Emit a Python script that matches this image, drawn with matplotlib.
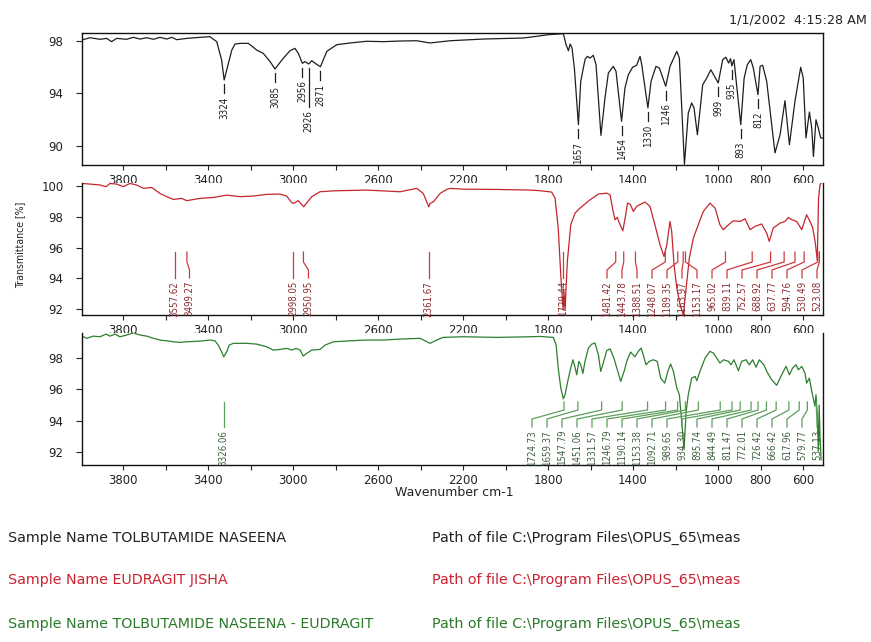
import numpy as np
import matplotlib
matplotlib.use("Agg")
import matplotlib.pyplot as plt
from matplotlib import font_manager

# TOLBUTAMIDE NASEENA
tol_wn = [3993, 3955, 3908, 3877, 3854, 3830, 3783, 3751, 3720, 3688, 3657, 3626,
          3594, 3571, 3547, 3500, 3438, 3391, 3359, 3336, 3324, 3304, 3288, 3273,
          3249, 3210, 3171, 3140, 3108, 3085, 3046, 3014, 2991, 2975, 2956, 2944,
          2926, 2912, 2896, 2871, 2841, 2794, 2732, 2653, 2575, 2496, 2418, 2355,
          2261, 2104, 1916, 1853, 1798, 1728, 1715, 1704, 1696, 1687, 1676, 1657,
          1646, 1626, 1615, 1602, 1587, 1574, 1551, 1532, 1516, 1493, 1480, 1454,
          1438, 1422, 1402, 1383, 1367, 1359, 1330, 1315, 1292, 1276, 1246, 1226,
          1194, 1182, 1158, 1140, 1124, 1113, 1097, 1072, 1053, 1034, 999, 978,
          963, 950, 941, 935, 925, 893, 877, 862, 846, 834, 812, 802, 790, 771,
          732, 708, 685, 664, 638, 611, 599, 586, 570, 559, 551, 539, 528, 517, 507]
tol_tr = [98.08, 98.25, 98.13, 98.20, 97.95, 98.20, 98.13, 98.28, 98.15, 98.25, 98.13, 98.28,
          98.15, 98.28, 98.10, 98.20, 98.28, 98.33, 97.95, 96.55, 95.03, 96.30, 97.31, 97.77,
          97.82, 97.82, 97.31, 97.06, 96.43, 95.87, 96.68, 97.26, 97.44, 97.06, 96.30, 96.43,
          96.25, 96.50, 96.30, 96.04, 97.21, 97.72, 97.85, 97.98, 97.95, 98.00, 98.02, 97.85,
          98.02, 98.15, 98.23, 98.36, 98.48, 98.56, 97.72, 97.26, 97.77, 97.47, 95.94, 91.62,
          94.93, 96.58, 96.83, 96.70, 96.91, 96.20, 90.81, 93.66, 95.56, 96.07, 95.69, 91.88,
          94.42, 95.43, 96.00, 96.15, 96.83, 96.20, 92.90, 94.93, 96.07, 95.94, 94.55, 96.07,
          97.21, 96.70, 88.60, 92.51, 93.28, 92.90, 90.86, 94.67, 95.18, 95.81, 94.80, 96.58,
          96.76, 96.32, 96.65, 96.10, 96.58, 91.62, 95.18, 96.20, 96.58, 95.94, 93.91, 96.07, 96.15, 94.93,
          89.47, 90.86, 93.45, 90.10, 93.40, 96.00, 95.18, 90.61, 92.59, 91.37, 89.20, 92.00, 91.37, 90.61, 90.61]
tol_peaks = [3324, 3085, 2956, 2926, 2871, 1657, 1454, 1330, 1246, 999, 935, 893, 812]

# EUDRAGIT JISHA
eud_wn = [3993, 3955, 3908, 3880, 3861, 3830, 3799, 3767, 3736, 3704, 3665, 3626,
          3594, 3563, 3524, 3500, 3438, 3375, 3312, 3249, 3187, 3124, 3061, 3030,
          3006, 2998, 2975, 2950, 2944, 2912, 2873, 2810, 2653, 2496, 2418, 2387,
          2361, 2355, 2339, 2308, 2277, 2261, 2199, 2041, 1885, 1838, 1783, 1767,
          1752, 1740, 1729, 1725, 1720, 1709, 1693, 1673, 1649, 1602, 1563, 1524,
          1508, 1495, 1485, 1474, 1461, 1448, 1437, 1426, 1414, 1398, 1383, 1344,
          1320, 1297, 1273, 1254, 1241, 1226, 1218, 1207, 1194, 1179, 1163, 1150,
          1135, 1116, 1093, 1069, 1038, 1014, 991, 975, 951, 928, 896, 873, 849,
          826, 795, 771, 759, 740, 708, 685, 669, 653, 630, 606, 583, 567, 554,
          542, 533, 527, 520, 514]
eud_tr = [100.17, 100.13, 100.07, 99.96, 100.17, 100.13, 99.96, 100.17, 100.07, 99.85, 99.91, 99.52,
          99.31, 99.13, 99.20, 99.05, 99.20, 99.26, 99.41, 99.31, 99.35, 99.46, 99.48, 99.35,
          98.92, 98.87, 99.05, 98.65, 98.76, 99.31, 99.63, 99.69, 99.74, 99.63, 99.85, 99.52,
          98.65, 98.87, 98.98, 99.52, 99.78, 99.85, 99.80, 99.78, 99.74, 99.70, 99.61, 99.22,
          97.27, 94.23, 91.95, 93.15, 91.95, 95.10, 97.48, 98.24, 98.57, 99.11, 99.48, 99.54,
          99.43, 98.46, 97.81, 97.96, 97.48, 97.09, 97.92, 98.89, 98.83, 98.35, 98.68, 98.96,
          98.68, 97.48, 96.18, 95.42, 96.18, 97.70, 97.05, 94.88, 93.37, 92.28, 91.63, 93.37,
          95.32, 96.62, 97.48, 98.35, 98.89, 98.57, 97.48, 97.16, 97.48, 97.74, 97.70, 97.87, 97.16,
          97.38, 97.53, 96.94, 96.40, 97.27, 97.59, 97.70, 97.96, 97.81, 97.70, 97.16, 98.13, 97.70, 97.27,
          96.29, 95.14, 99.22, 100.08, 100.20]
eud_peaks = [3557.62, 3499.27, 2998.05, 2950.95, 2361.67, 1729.44, 1481.42, 1443.78,
             1388.51, 1248.07, 1189.35, 1163.97, 1153.17, 965.02, 839.11, 752.57,
             688.92, 637.77, 594.76, 530.49, 523.08]

# TOLBUTAMIDE NASEENA - EUDRAGIT
mix_wn = [3993, 3971, 3940, 3908, 3880, 3861, 3838, 3814, 3783, 3751, 3720, 3688,
          3657, 3626, 3594, 3563, 3532, 3500, 3438, 3391, 3367, 3352, 3336, 3326,
          3312, 3300, 3281, 3218, 3171, 3124, 3093, 3061, 3030, 3006, 2986, 2967,
          2952, 2935, 2912, 2873, 2849, 2810, 2732, 2653, 2575, 2496, 2402, 2379,
          2355, 2324, 2293, 2199, 2041, 1885, 1838, 1775, 1762, 1752, 1740, 1728,
          1720, 1704, 1693, 1683, 1674, 1665, 1655, 1646, 1636, 1626, 1610, 1594,
          1579, 1563, 1552, 1540, 1524, 1508, 1490, 1474, 1458, 1442, 1427, 1411,
          1391, 1375, 1362, 1352, 1339, 1323, 1305, 1286, 1270, 1251, 1236, 1223,
          1210, 1194, 1182, 1171, 1160, 1150, 1140, 1124, 1108, 1100, 1085, 1061,
          1038, 1022, 1006, 991, 975, 951, 939, 925, 904, 889, 868, 853, 837, 821,
          806, 784, 771, 748, 724, 701, 680, 664, 649, 633, 622, 606, 591, 583,
          570, 559, 552, 544, 539, 533, 528, 524, 520, 515]
mix_tr = [99.40, 99.26, 99.40, 99.36, 99.53, 99.40, 99.53, 99.36, 99.47, 99.61, 99.47, 99.40,
          99.26, 99.15, 99.10, 99.04, 99.00, 99.04, 99.08, 99.15, 99.10, 98.83, 98.40, 98.08,
          98.40, 98.83, 98.94, 98.94, 98.89, 98.72, 98.51, 98.55, 98.62, 98.51, 98.62, 98.51,
          98.13, 98.30, 98.51, 98.55, 98.83, 99.04, 99.10, 99.15, 99.15, 99.21, 99.26, 99.10,
          98.94, 99.15, 99.32, 99.36, 99.32, 99.36, 99.38, 99.32, 98.85, 97.36, 96.09, 95.40,
          95.66, 96.72, 97.36, 97.89, 97.47, 96.93, 97.79, 97.57, 97.02, 97.79, 98.64, 98.89,
          98.96, 98.21, 97.15, 97.68, 98.47, 98.59, 98.00, 97.25, 96.51, 97.15, 97.89, 98.38,
          98.08, 98.43, 98.64, 98.21, 97.57, 97.79, 97.89, 97.79, 96.72, 96.40, 97.15, 97.62,
          97.15, 96.09, 95.66, 93.96, 92.15, 94.60, 95.66, 96.72, 96.83, 96.55, 97.15, 98.00,
          98.43, 98.32, 98.00, 97.68, 97.89, 97.79, 97.57, 97.89, 97.19, 97.79, 97.89, 97.57, 97.89, 97.41,
          97.89, 97.57, 97.15, 96.62, 96.26, 96.92, 97.47, 96.93, 97.36, 97.57, 97.25, 97.47, 97.04, 96.40,
          96.72, 95.87, 95.45, 94.92, 95.66, 94.38, 92.05, 95.00, 93.00, 91.50]
mix_peaks = [3326.06, 1724.73, 1659.37, 1547.79, 1451.06, 1331.57, 1246.79, 1190.14,
             1153.38, 1092.71, 989.65, 934.30, 895.74, 844.49, 811.47, 772.01, 726.42,
             666.42, 617.96, 579.77, 537.13]

x_ticks = list(range(3800, 599, -200))
x_ticklabels = [3800, 3400, 3000, 2600, 2200, 1800, 1400, 1000, 800, 600]

sample_names = ["TOLBUTAMIDE NASEENA", "EUDRAGIT JISHA", "TOLBUTAMIDE NASEENA - EUDRAGIT"]
file_path = r"C:\Program Files\OPUS_65\meas"
stamp = "1/1/2002  4:15:28 AM"

BLACK = "#1e1e1e"
RED = "#c4262e"
GREEN = "#2c7f2c"


def narrow_font(size):
    """Pick a condensed face for the peak numbers, falling back to a narrow-ish one."""
    for f in font_manager.fontManager.ttflist:
        fn = f.fname.lower()
        if ("narrow" in fn or "condensed" in fn) and "bold" not in fn \
                and "oblique" not in fn and "italic" not in fn and f.weight in (400, "normal", "regular"):
            return font_manager.FontProperties(fname=f.fname, size=size)
    return font_manager.FontProperties(family=["Roboto", "Liberation Sans", "DejaVu Sans"],
                                       size=size * 0.92)


plt.rcParams["font.family"] = "DejaVu Sans"
peak_font = narrow_font(6.9)
ylab_font = narrow_font(7.6)

W, H = 871, 642
fig = plt.figure(figsize=(W / 100, H / 100), dpi=100)

XMAX, XMIN = 3993, 506
LEFT, RIGHT = 82, 823


def make_axes(top, bottom, ylim, yticks, box=False):
    ax = fig.add_axes([LEFT / W, 1 - bottom / H, (RIGHT - LEFT) / W, (bottom - top) / H])
    ax.set_xlim(XMAX, XMIN)
    ax.set_ylim(*ylim)
    ax.set_xticks(x_ticks)
    ax.set_xticklabels([str(t) if t in x_ticklabels else "" for t in x_ticks])
    ax.set_yticks(yticks)
    ax.tick_params(axis="x", direction="out", length=3.6, width=0.8, pad=3.0,
                   labelsize=8.5, colors="#222222")
    ax.tick_params(axis="y", direction="out", length=4.3, width=0.8, pad=9,
                   labelsize=8.5, colors="#222222")
    for s in ax.spines.values():
        s.set_linewidth(1.0)
        s.set_color("#111111")
    ax.spines["top"].set_visible(box)
    return ax


ax1 = make_axes(33, 165, (88.55, 98.61), [90, 94, 98], box=True)
ax2 = make_axes(183, 315, (91.61, 100.2), [92, 94, 96, 98, 100])
ax3 = make_axes(333, 465, (91.17, 99.6), [92, 94, 96, 98])

ax1.plot(tol_wn, tol_tr, color=BLACK, lw=0.9)
ax2.plot(eud_wn, eud_tr, color=RED, lw=0.9)
ax3.plot(mix_wn, mix_tr, color=GREEN, lw=0.9)


def x_px(w):
    return LEFT + (XMAX - w) * (RIGHT - LEFT) / (XMAX - XMIN)


def x_wn(px):
    return XMAX - (px - LEFT) * (XMAX - XMIN) / (RIGHT - LEFT)


def y_val(ax, top, y_px):
    lo, hi = ax.get_ylim()
    return hi - (y_px - top) * (hi - lo) / 132.0


# peak picks hanging below the tolbutamide bands
lo, hi = ax1.get_ylim()
ppu = 132.0 / (hi - lo)
asc = np.argsort(tol_wn)
for w in tol_peaks:
    t = np.interp(w, np.array(tol_wn)[asc], np.array(tol_tr)[asc])
    drop = 43 if w == 2926 else 13.5
    ax1.plot([w, w], [t - 4.5 / ppu, t - drop / ppu], color=BLACK, lw=0.9)
    ax1.text(w, t - (drop + 3.5) / ppu, str(w), rotation=90, ha="center", va="top",
             fontproperties=peak_font, color=BLACK)


def spread(xs, gap, right):
    xs = list(xs)
    for i in range(1, len(xs)):
        xs[i] = max(xs[i], xs[i - 1] + gap)
    xs[-1] = min(xs[-1], right)
    for i in range(len(xs) - 2, -1, -1):
        xs[i] = min(xs[i], xs[i + 1] - gap)
    return xs


def pick_labels(ax, top, peaks, levels, line_color, text_color):
    y0, y1, y2, y3, yt = [y_val(ax, top, v) for v in levels]
    text_x = spread([x_px(w) for w in peaks], 15, 817)
    for w, tx in zip(peaks, text_x):
        lw_ = x_wn(tx)
        ax.plot([w, w, lw_, lw_], [y0, y1, y2, y3], color=line_color, lw=0.9)
        ax.text(lw_, yt, f"{w:.2f}", rotation=90, ha="center", va="top",
                fontproperties=peak_font, color=text_color)


pick_labels(ax2, 183, eud_peaks, (252, 262, 270, 278, 281), "#cf3a40", "#8a2a2e")
pick_labels(ax3, 333, mix_peaks, (402, 410, 419, 427, 430), "#5c9e5c", "#3f5f3f")

fig.text(20 / W, 1 - 245 / H, "Transmittance [%]", rotation=90, ha="center", va="center",
         fontproperties=ylab_font, color="#222222")
fig.text(454 / W, 1 - 493 / H, "Wavenumber cm-1", ha="center", va="center",
         fontsize=9, color="#222222")
fig.text(867 / W, 1 - 20 / H, stamp, ha="right", va="center", fontsize=9.2, color="#222222")

row_y = [538, 580, 624]
row_colors = ["#222222", "#cc2230", "#2a7a2a"]
for name, y, c in zip(sample_names, row_y, row_colors):
    fig.text(8 / W, 1 - y / H, "Sample Name " + name, ha="left", va="center",
             fontsize=10.3, color=c)
    fig.text(432 / W, 1 - y / H, "Path of file " + file_path, ha="left", va="center",
             fontsize=10.3, color=c)

fig.savefig("out.png", dpi=100, facecolor="white")
